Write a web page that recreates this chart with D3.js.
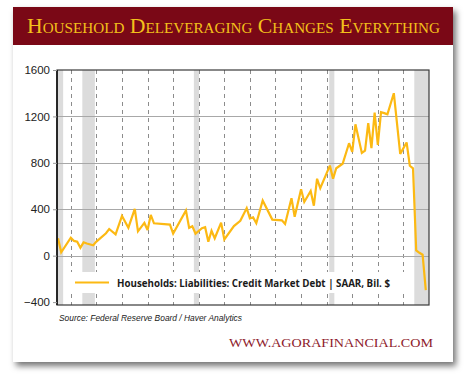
<!DOCTYPE html>
<html>
<head>
<meta charset="utf-8">
<script src="https://cdn.jsdelivr.net/npm/d3@7"></script>
<style>
  html, body { margin: 0; padding: 0; background: #ffffff; }
  svg { display: block; }
</style>
</head>
<body>
<div id="chart"></div>
<script>
// ---- Data ----
const quarters = ["1980Q1","1980Q2","1981Q1","1981Q2","1981Q3","1981Q4","1982Q1","1982Q2","1982Q4",
  "1983Q1","1983Q4","1984Q1","1984Q3","1985Q1","1985Q3","1986Q1","1986Q2","1986Q4","1987Q1","1987Q2",
  "1987Q3","1988Q4","1989Q1","1990Q1","1990Q2","1990Q3","1990Q4","1991Q2","1991Q3","1991Q4","1992Q1",
  "1992Q2","1992Q4","1993Q1","1993Q4","1994Q2","1994Q4","1995Q1","1995Q2","1995Q3","1996Q1","1996Q4",
  "1997Q3","1997Q4","1998Q2","1998Q3","1999Q1","1999Q2","1999Q4","2000Q1","2000Q2","2000Q3","2001Q2",
  "2001Q3","2001Q4","2002Q2","2002Q4","2003Q1","2003Q2","2003Q4","2004Q1","2004Q2","2004Q3","2004Q4",
  "2005Q1","2005Q2","2005Q3","2005Q4","2006Q2","2006Q4","2007Q2","2007Q3","2007Q4","2008Q1","2008Q2",
  "2008Q3","2008Q4"];
const debtFlow = [150,29,155,127,121,69,115,105,90,
  121,193,230,184,342,241,404,210,282,221,351,
  279,268,190,390,240,253,190,237,245,120,215,
  150,285,140,255,300,410,322,330,280,475,311,
  305,273,495,335,573,463,558,431,663,581,776,
  664,753,792,969,895,1132,885,905,1143,926,1232,
  955,1236,1228,1218,1400,877,976,775,753,45,25,
  8,-296];
const recessionStart = [1979.9, 1981.9, 1990.62, 2001.2, 2007.85];
const recessionEnd   = [1980.4, 1982.88, 1991.02, 2001.6, 2009.5];
const yTicks = [-400, 0, 400, 800, 1200, 1600];
const yGrid = [0, 400, 800, 1200];
const xGridYears = [1981,1983,1985,1987,1989,1991,1993,1995,1997,1999,2001,2003,2005,2007];
const titleText = "Household Deleveraging Changes Everything";
const legendLabel = "Households: Liabilities: Credit Market Debt | SAAR, Bil. $";
const sourceText = "Source: Federal Reserve Board / Haver Analytics";
const siteText = "WWW.AGORAFINANCIAL.COM";

// ---- Helpers ----
function qToYear(q) {
  const y = +q.slice(0, 4), n = +q.slice(5);
  return y + (n - 1) / 4;
}
const data = quarters.map((q, i) => ({ t: qToYear(q), v: debtFlow[i] }));

// ---- Layout ----
const W = 470, H = 382;
const plot = { x0: 57, x1: 429, y0: 70, y1: 305 };
const svg = d3.select("#chart").append("svg").attr("width", W).attr("height", H);

const defs = svg.append("defs");
const f = defs.append("filter").attr("id", "shadow").attr("x", "-10%").attr("y", "-10%")
  .attr("width", "125%").attr("height", "125%");
f.append("feDropShadow").attr("dx", 3).attr("dy", 4).attr("stdDeviation", 3)
  .attr("flood-color", "#000").attr("flood-opacity", 0.55);
defs.append("clipPath").attr("id", "plotclip").append("rect")
  .attr("x", plot.x0).attr("y", plot.y0).attr("width", plot.x1 - plot.x0).attr("height", plot.y1 - plot.y0);

// Card
svg.append("rect").attr("x", 13).attr("y", 7).attr("width", 440).attr("height", 355)
  .attr("fill", "#ffffff").attr("filter", "url(#shadow)");
// Banner
svg.append("rect").attr("x", 13).attr("y", 7).attr("width", 440).attr("height", 38).attr("fill", "#7a0816");
svg.append("text").attr("x", 27).attr("y", 33)
  .attr("font-family", "'Liberation Serif', 'DejaVu Serif', serif")
  .attr("font-size", 20).style("font-variant", "small-caps")
  .attr("fill", "#f3c11b")
  .attr("textLength", 413).attr("lengthAdjust", "spacingAndGlyphs")
  .text(titleText);

// Scales
const x = d3.scaleLinear().domain([1979.92, 2009.0]).range([plot.x0, plot.x1]);
const y = d3.scaleLinear().domain([-425, 1600]).range([plot.y1, plot.y0]);

const g = svg.append("g");
const clipped = g.append("g").attr("clip-path", "url(#plotclip)");

// Recession bands
clipped.selectAll("rect.rec").data(recessionStart.map((s, i) => [s, recessionEnd[i]]))
  .join("rect").attr("class", "rec")
  .attr("x", d => x(d[0])).attr("width", d => x(d[1]) - x(d[0]))
  .attr("y", plot.y0).attr("height", plot.y1 - plot.y0)
  .attr("fill", "#dcdcdc");

// Vertical dashed grid
clipped.selectAll("line.vg").data(xGridYears).join("line").attr("class", "vg")
  .attr("x1", d => Math.round(x(d)) + 0.5).attr("x2", d => Math.round(x(d)) + 0.5)
  .attr("y1", plot.y0).attr("y2", plot.y1)
  .attr("stroke", "#8c8c8c").attr("stroke-width", 1).attr("stroke-dasharray", "4,4");

// Horizontal grid
clipped.selectAll("line.hg").data(yGrid).join("line").attr("class", "hg")
  .attr("x1", plot.x0).attr("x2", plot.x1)
  .attr("y1", d => Math.round(y(d)) + 0.5).attr("y2", d => Math.round(y(d)) + 0.5)
  .attr("stroke", "#a8a8a8").attr("stroke-width", 1.2);

// Legend box (white, covering grid)
g.append("rect").attr("x", 64).attr("y", 272).attr("width", 348).attr("height", 21).attr("fill", "#ffffff");
g.append("line").attr("x1", 75).attr("x2", 109).attr("y1", 282.5).attr("y2", 282.5)
  .attr("stroke", "#fcb913").attr("stroke-width", 2.2);
g.append("text").attr("x", 117).attr("y", 286.5)
  .attr("font-family", "'Open Sans', 'Liberation Sans', sans-serif")
  .attr("font-weight", "bold").attr("font-size", 11).attr("fill", "#1a1a1a")
  .attr("textLength", 273).attr("lengthAdjust", "spacingAndGlyphs")
  .text(legendLabel);

// Data line
const line = d3.line().x(d => x(d.t)).y(d => y(d.v));
clipped.append("path").datum(data).attr("d", line)
  .attr("fill", "none").attr("stroke", "#fcb913").attr("stroke-width", 2.2)
  .attr("stroke-linejoin", "miter").attr("stroke-miterlimit", 3);

// Frame
g.append("rect").attr("x", plot.x0).attr("y", plot.y0)
  .attr("width", plot.x1 - plot.x0).attr("height", plot.y1 - plot.y0)
  .attr("fill", "none").attr("stroke", "#3a3a3a").attr("stroke-width", 1.2);
g.append("line").attr("x1", plot.x0).attr("x2", plot.x0).attr("y1", plot.y0).attr("y2", plot.y1)
  .attr("stroke", "#111").attr("stroke-width", 1.6);

// Y axis
const yAxis = d3.axisLeft(y).tickValues(yTicks).tickSize(4).tickPadding(3).tickFormat(d3.format("d"));
const ya = g.append("g").attr("transform", `translate(${plot.x0},0)`).call(yAxis);
ya.select(".domain").remove();
ya.selectAll(".tick line").attr("stroke", "#999");
ya.selectAll(".tick text").attr("font-family", "'Liberation Sans', Arial, sans-serif")
  .attr("font-size", 11.5).attr("fill", "#222");

// Source
svg.append("text").attr("x", 59).attr("y", 321)
  .attr("font-family", "'Liberation Sans', Arial, sans-serif").attr("font-style", "italic")
  .attr("font-size", 9.5).attr("fill", "#222")
  .attr("textLength", 183).attr("lengthAdjust", "spacingAndGlyphs")
  .text(sourceText);

// Website
svg.append("text").attr("x", 229).attr("y", 347)
  .attr("font-family", "'Liberation Serif', 'DejaVu Serif', serif")
  .attr("font-size", 13.5).attr("fill", "#8e1b2c")
  .attr("textLength", 204).attr("lengthAdjust", "spacingAndGlyphs")
  .text(siteText);
</script>
</body>
</html>
